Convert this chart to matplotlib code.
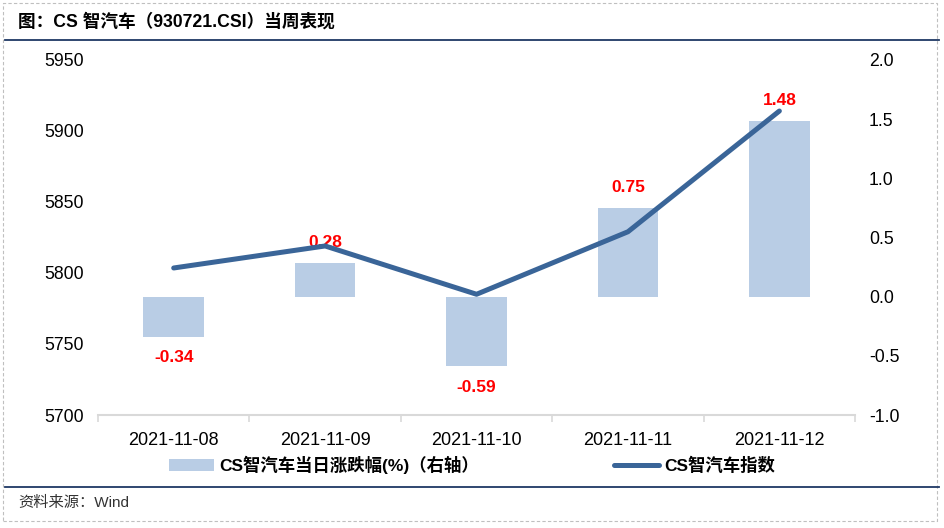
import matplotlib.pyplot as plt
from matplotlib.lines import Line2D
from matplotlib.patches import Patch, Rectangle

plt.rcParams['font.family'] = ['Liberation Sans', 'Noto Sans CJK SC', 'DejaVu Sans']

# data
dates = ['2021-11-08', '2021-11-09', '2021-11-10', '2021-11-11', '2021-11-12']
pct_change = [-0.34, 0.28, -0.59, 0.75, 1.48]
index_close = [5803.5, 5819, 5785, 5829, 5914]

bar_color = '#B9CDE5'
line_color = '#3A6598'

fig = plt.figure(figsize=(9.44, 5.28), dpi=100)
ax = fig.add_axes([0.1038, 0.214, 0.802, 0.6726])
ax2 = ax.twinx()

x = list(range(len(dates)))

# bars (right axis) on the base axes so the line sits on top
ax.bar(x, pct_change, width=0.4, color=bar_color, zorder=2)
ax.set_ylim(-1.0, 2.0)
ax.set_yticks([-1.0, -0.5, 0.0, 0.5, 1.0, 1.5, 2.0])
ax.set_yticklabels(['-1.0', '-0.5', '0.0', '0.5', '1.0', '1.5', '2.0'])
ax.yaxis.tick_right()
ax.yaxis.set_label_position('right')
ax.tick_params(axis='y', length=0, pad=10, labelsize=12.7)

for xi, v in zip(x, pct_change):
    off = 15 if v > 0 else -15
    ax.annotate(f'{v:.2f}', (xi, v), xytext=(0, off), textcoords='offset points',
                ha='center', va='center', color='red', fontsize=12.5,
                fontweight='bold', zorder=5)

# index line (left axis)
ax2.plot(x, index_close, color=line_color, linewidth=3.6,
         solid_capstyle='round', solid_joinstyle='round', zorder=3)
ax2.set_ylim(5700, 5950)
ax2.set_yticks([5700, 5750, 5800, 5850, 5900, 5950])
ax2.yaxis.tick_left()
ax2.tick_params(axis='y', length=0, pad=10, labelsize=12.7)

# x axis: labels centred, tick marks on category boundaries
ax.set_xlim(-0.5, len(dates) - 0.5)
ax.set_xticks(x)
ax.set_xticklabels(dates)
ax.set_xticks([i - 0.5 for i in range(len(dates) + 1)], minor=True)
ax.tick_params(axis='x', which='major', length=0, pad=12, labelsize=13)
ax.tick_params(axis='x', which='minor', length=5, width=1.2, color='#D9D9D9')

for a in (ax, ax2):
    for side in ('top', 'left', 'right', 'bottom'):
        a.spines[side].set_visible(False)
ax.spines['bottom'].set_visible(True)
ax.spines['bottom'].set_color('#D9D9D9')
ax.spines['bottom'].set_linewidth(1.5)

# legend
handles = [Patch(facecolor=bar_color, edgecolor='none'),
           Line2D([0], [0], color=line_color, linewidth=3.6, solid_capstyle='round')]
labels = ['CS智汽车当日涨跌幅(%)（右轴）', 'CS智汽车指数']
fig.legend(handles, labels, loc='center', bbox_to_anchor=(0.5, 1 - 465 / 528),
           ncol=2, frameon=False, columnspacing=7.8, handlelength=2.6,
           handletextpad=0.3, prop={'size': 12.5, 'weight': 'bold'})

# title, footer and frame
fig.text(18 / 944, 1 - 22 / 528, '图：CS 智汽车（930721.CSI）当周表现',
         fontsize=12.7, fontweight='bold', va='center', ha='left')
fig.text(18 / 944, 1 - 503 / 528, '资料来源：Wind', fontsize=11,
         color='#333333', va='center', ha='left')
fig.add_artist(Line2D([5 / 944, 939 / 944], [1 - 40 / 528, 1 - 40 / 528],
                      color='#1F3864', linewidth=1.3))
fig.add_artist(Line2D([5 / 944, 939 / 944], [1 - 487 / 528, 1 - 487 / 528],
                      color='#1F3864', linewidth=1.3))
fig.add_artist(Rectangle((3 / 944, 1 - 521 / 528), 934 / 944, 518 / 528,
                         fill=False, edgecolor='#BFBFBF', linewidth=0.8,
                         linestyle=(0, (3, 2))))

fig.savefig('out.png', dpi=100)
